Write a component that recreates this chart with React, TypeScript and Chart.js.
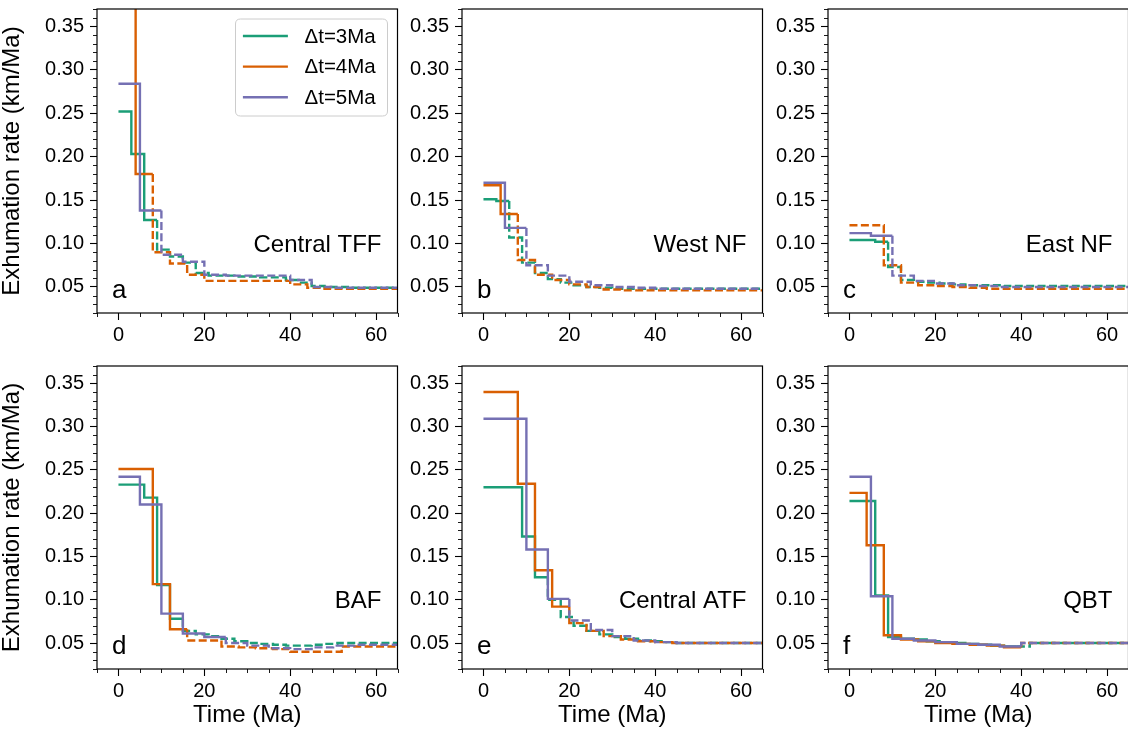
import { useEffect, useRef } from 'react';
import { Chart, registerables } from 'chart.js';

Chart.register(...registerables);

const FONT = '"Liberation Sans", Arial, Helvetica, sans-serif';

// Axis ticks
const X_TICKS = [0, 20, 40, 60];
const Y_TICKS = [0.05, 0.1, 0.15, 0.2, 0.25, 0.3, 0.35];
const X_MINOR = [-5, 5, 10, 15, 25, 30, 35, 45, 50, 55, 65];
const Y_MINOR = [0.02, 0.03, 0.04, 0.06, 0.07, 0.08, 0.09, 0.11, 0.12, 0.13, 0.14, 0.16, 0.17, 0.18, 0.19, 0.21, 0.22, 0.23, 0.24, 0.26, 0.27, 0.28, 0.29, 0.31, 0.32, 0.33, 0.34, 0.36, 0.37];

// Time-step edges (Ma) for each Δt
const T3 = [0, 3, 6, 9, 12, 15, 18, 21, 24, 27, 30, 33, 36, 39, 42, 45, 48, 51, 54, 57, 60, 63, 66];
const T4 = [0, 4, 8, 12, 16, 20, 24, 28, 32, 36, 40, 44, 48, 52, 56, 60, 64, 68];
const T5 = [0, 5, 10, 15, 20, 25, 30, 35, 40, 45, 50, 55, 60, 65, 70];

const SERIES_LABELS = ['Δt=3Ma', 'Δt=4Ma', 'Δt=5Ma'];
const SERIES_COLORS = ['#1b9e77', '#d95f02', '#7570b3'];
const PANEL_LETTERS = ['a', 'b', 'c', 'd', 'e', 'f'];
const PANEL_NAMES = ['Central TFF', 'West NF', 'East NF', 'BAF', 'Central ATF', 'QBT'];

// Exhumation rates (km/Ma) per time step; [green Δt=3, orange Δt=4, purple Δt=5]
const A3 = [0.252, 0.203, 0.127, 0.093, 0.085, 0.078, 0.066, 0.063, 0.063, 0.062, 0.062, 0.061, 0.061, 0.058, 0.055, 0.051, 0.05, 0.05, 0.049, 0.049, 0.049, 0.049];
const A4 = [0.6, 0.18, 0.09, 0.077, 0.064, 0.057, 0.057, 0.057, 0.057, 0.057, 0.053, 0.049, 0.048, 0.048, 0.048, 0.048, 0.048];
const A5 = [0.284, 0.138, 0.087, 0.079, 0.064, 0.063, 0.063, 0.063, 0.058, 0.05, 0.049, 0.049, 0.049, 0.049];
const A_SOLID = [3, 2, 2];

const B3 = [0.151, 0.149, 0.107, 0.078, 0.066, 0.059, 0.055, 0.052, 0.05, 0.049, 0.048, 0.048, 0.048, 0.048, 0.048, 0.048, 0.048, 0.048, 0.048, 0.048, 0.048, 0.048];
const B4 = [0.167, 0.134, 0.081, 0.064, 0.058, 0.053, 0.05, 0.047, 0.046, 0.046, 0.046, 0.046, 0.046, 0.046, 0.046, 0.046, 0.046];
const B5 = [0.17, 0.118, 0.075, 0.063, 0.056, 0.052, 0.05, 0.049, 0.048, 0.048, 0.048, 0.048, 0.048, 0.048];
const B_SOLID = [2, 2, 2];

const C3 = [0.104, 0.104, 0.102, 0.073, 0.058, 0.056, 0.055, 0.054, 0.053, 0.052, 0.052, 0.052, 0.051, 0.051, 0.051, 0.051, 0.051, 0.051, 0.051, 0.051, 0.051, 0.051];
const C4 = [0.121, 0.121, 0.075, 0.055, 0.052, 0.051, 0.05, 0.049, 0.048, 0.048, 0.048, 0.048, 0.048, 0.048, 0.048, 0.048, 0.048];
const C5 = [0.112, 0.109, 0.063, 0.057, 0.054, 0.052, 0.051, 0.05, 0.05, 0.05, 0.05, 0.05, 0.05, 0.05];
const C_SOLID = [3, 0, 2];

const D3 = [0.233, 0.233, 0.218, 0.117, 0.078, 0.064, 0.06, 0.058, 0.055, 0.052, 0.05, 0.049, 0.048, 0.047, 0.047, 0.048, 0.049, 0.05, 0.05, 0.05, 0.05, 0.05];
const D4 = [0.251, 0.251, 0.118, 0.066, 0.053, 0.053, 0.046, 0.045, 0.044, 0.043, 0.04, 0.04, 0.04, 0.046, 0.046, 0.046, 0.046];
const D5 = [0.242, 0.21, 0.084, 0.061, 0.057, 0.05, 0.047, 0.044, 0.043, 0.045, 0.047, 0.048, 0.048, 0.048];
const D_SOLID = [5, 4, 5];

const E3 = [0.23, 0.23, 0.23, 0.173, 0.126, 0.1, 0.08, 0.07, 0.064, 0.06, 0.057, 0.055, 0.053, 0.052, 0.051, 0.05, 0.05, 0.05, 0.05, 0.05, 0.05, 0.05];
const E4 = [0.34, 0.34, 0.234, 0.134, 0.092, 0.073, 0.064, 0.058, 0.054, 0.052, 0.051, 0.05, 0.05, 0.05, 0.05, 0.05, 0.05];
const E5 = [0.309, 0.309, 0.158, 0.101, 0.076, 0.065, 0.058, 0.053, 0.051, 0.05, 0.05, 0.05, 0.05, 0.05];
const E_SOLID = [5, 5, 4];

const F3 = [0.214, 0.214, 0.105, 0.057, 0.055, 0.054, 0.052, 0.051, 0.05, 0.049, 0.048, 0.047, 0.046, 0.046, 0.05, 0.05, 0.05, 0.05, 0.05, 0.05, 0.05, 0.05];
const F4 = [0.2235, 0.163, 0.059, 0.054, 0.052, 0.05, 0.049, 0.048, 0.047, 0.045, 0.05, 0.05, 0.05, 0.05, 0.05, 0.05, 0.05];
const F5 = [0.242, 0.104, 0.055, 0.053, 0.051, 0.049, 0.048, 0.046, 0.05, 0.05, 0.05, 0.05, 0.05, 0.05];
const F_SOLID = [13, 10, 8];

const PANEL_VALUES = [
  [A3, A4, A5],
  [B3, B4, B5],
  [C3, C4, C5],
  [D3, D4, D5],
  [E3, E4, E5],
  [F3, F4, F5],
];
const PANEL_SOLID = [A_SOLID, B_SOLID, C_SOLID, D_SOLID, E_SOLID, F_SOLID];
const EDGES = [T3, T4, T5];

const X_MIN = -5;
const X_MAX = 65;
const Y_MIN = 0.02;
const Y_MAX = 0.37;

type Pt = { x: number; y: number };

function stepPoints(edges: number[], vals: number[], from: number, to: number): Pt[] {
  const pts: Pt[] = [];
  if (to <= from) return pts;
  if (from > 0) pts.push({ x: edges[from], y: vals[from - 1] });
  for (let i = from; i < to; i++) pts.push({ x: edges[i], y: vals[i] });
  pts.push({ x: edges[to], y: vals[to - 1] });
  return pts;
}

function buildDatasets(idx: number) {
  const out: any[] = [];
  // purple first so it is drawn on top (Chart.js draws first dataset last)
  for (const s of [2, 1, 0]) {
    const vals = PANEL_VALUES[idx][s];
    const edges = EDGES[s];
    const ns = PANEL_SOLID[idx][s];
    const n = vals.length;
    const solid = stepPoints(edges, vals, 0, ns);
    const dashed = stepPoints(edges, vals, ns, n);
    const base = {
      borderColor: SERIES_COLORS[s],
      backgroundColor: SERIES_COLORS[s],
      borderWidth: 2.4,
      pointRadius: 0,
      stepped: 'before',
      fill: false,
      borderCapStyle: 'butt',
      borderJoinStyle: 'miter',
    };
    if (solid.length) out.push({ ...base, label: SERIES_LABELS[s], data: solid });
    if (dashed.length) out.push({ ...base, label: SERIES_LABELS[s] + ' (dashed)', data: dashed, borderDash: [8, 3.4] });
  }
  return out;
}

const CANVAS_W = 400;
const Y_AXIS_W = 97;
const COL_LEFT = [0, 365, 731];
const ROW_TOP = [0, 358];
const ROW_H = [358, 376];
const ROW_PAD_TOP = [9, 8];
const ROW_X_AXIS_H = [45, 65];

function Panel({ idx }: { idx: number }) {
  const ref = useRef<HTMLCanvasElement>(null);
  const col = idx % 3;
  const row = Math.floor(idx / 3);

  useEffect(() => {
    if (!ref.current) return;
    const decorPlugin = {
      id: 'decor' + idx,
      afterDatasetsDraw(chart: any) {
        const { ctx, chartArea } = chart;
        const { left, right, top, bottom } = chartArea;
        const xs = chart.scales.x;
        const ys = chart.scales.y;
        ctx.save();
        // minor ticks
        ctx.strokeStyle = '#000';
        ctx.lineWidth = 0.9;
        ctx.beginPath();
        for (const v of X_MINOR) {
          const px = Math.round(xs.getPixelForValue(v)) + 0.5;
          if (px < left - 1 || px > right + 1) continue;
          ctx.moveTo(px, bottom);
          ctx.lineTo(px, bottom + 4);
        }
        for (const v of Y_MINOR) {
          const py = Math.round(ys.getPixelForValue(v)) + 0.5;
          if (py < top - 1 || py > bottom + 1) continue;
          ctx.moveTo(left, py);
          ctx.lineTo(left - 4, py);
        }
        ctx.stroke();
        // frame
        ctx.lineWidth = 1.2;
        ctx.strokeStyle = '#000';
        ctx.strokeRect(left, top, right - left, bottom - top);

        // region name
        ctx.fillStyle = '#000';
        ctx.font = '24px ' + FONT;
        ctx.textAlign = 'right';
        ctx.textBaseline = 'alphabetic';
        ctx.fillText(PANEL_NAMES[idx], right - 16, bottom - 61);
        // panel letter
        ctx.font = '26px ' + FONT;
        ctx.textAlign = 'left';
        ctx.fillText(PANEL_LETTERS[idx], left + 15, bottom - 15);

        // legend (panel a only)
        if (idx === 0) {
          const bx = right - 162;
          const by = top + 10;
          const bw = 152;
          const bh = 97;
          const r = 5;
          ctx.beginPath();
          ctx.moveTo(bx + r, by);
          ctx.lineTo(bx + bw - r, by);
          ctx.quadraticCurveTo(bx + bw, by, bx + bw, by + r);
          ctx.lineTo(bx + bw, by + bh - r);
          ctx.quadraticCurveTo(bx + bw, by + bh, bx + bw - r, by + bh);
          ctx.lineTo(bx + r, by + bh);
          ctx.quadraticCurveTo(bx, by + bh, bx, by + bh - r);
          ctx.lineTo(bx, by + r);
          ctx.quadraticCurveTo(bx, by, bx + r, by);
          ctx.closePath();
          ctx.fillStyle = 'rgba(255,255,255,0.8)';
          ctx.fill();
          ctx.lineWidth = 1;
          ctx.strokeStyle = '#cccccc';
          ctx.stroke();
          for (let s = 0; s < 3; s++) {
            const cy = top + 27 + s * 30.6;
            ctx.beginPath();
            ctx.strokeStyle = SERIES_COLORS[s];
            ctx.lineWidth = 2.4;
            ctx.moveTo(right - 154.6, cy);
            ctx.lineTo(right - 109.6, cy);
            ctx.stroke();
            ctx.fillStyle = '#000';
            ctx.font = '20.5px ' + FONT;
            ctx.textAlign = 'left';
            ctx.textBaseline = 'middle';
            ctx.fillText(SERIES_LABELS[s], right - 93, cy + 1);
          }
        }
        ctx.restore();
      },
    };

    const chart = new Chart(ref.current, {
      type: 'line',
      data: { datasets: buildDatasets(idx) },
      options: {
        animation: false,
        responsive: false,
        maintainAspectRatio: false,
        devicePixelRatio: 1,
        layout: { padding: { top: ROW_PAD_TOP[row], right: 2.5, left: 0, bottom: 0 } },
        plugins: { legend: { display: false }, tooltip: { enabled: false } },
        elements: { point: { radius: 0 } },
        scales: {
          x: {
            type: 'linear',
            min: X_MIN,
            max: X_MAX,
            afterBuildTicks: (s: any) => {
              s.ticks = X_TICKS.map((v) => ({ value: v }));
            },
            afterFit: (s: any) => {
              s.height = ROW_X_AXIS_H[row];
              s.paddingLeft = 0;
              s.paddingRight = 0;
            },
            grid: { drawOnChartArea: false, drawTicks: true, tickLength: 7, color: '#000', tickColor: '#000', tickWidth: 1.1 },
            border: { display: false },
            ticks: {
              autoSkip: false,
              maxRotation: 0,
              padding: 3,
              color: '#000',
              font: { family: FONT, size: 20 },
              callback: (v: any) => String(v),
            },
            title: {
              display: row === 1,
              text: 'Time (Ma)',
              color: '#000',
              font: { family: FONT, size: 24 },
              padding: { top: 0, bottom: 4 },
            },
          },
          y: {
            type: 'linear',
            min: Y_MIN,
            max: Y_MAX,
            afterBuildTicks: (s: any) => {
              s.ticks = Y_TICKS.map((v) => ({ value: v }));
            },
            afterFit: (s: any) => {
              s.width = Y_AXIS_W;
              s.paddingTop = 0;
              s.paddingBottom = 0;
            },
            grid: { drawOnChartArea: false, drawTicks: true, tickLength: 7, color: '#000', tickColor: '#000', tickWidth: 1.1 },
            border: { display: false },
            ticks: {
              autoSkip: false,
              padding: 6,
              color: '#000',
              font: { family: FONT, size: 20 },
              callback: (v: any) => Number(v).toFixed(2),
            },
            title: {
              display: col === 0,
              text: 'Exhumation rate (km/Ma)',
              color: '#000',
              font: { family: FONT, size: 24, lineHeight: 1 },
              padding: { top: 0, bottom: 0 },
            },
          },
        },
      } as any,
      plugins: [decorPlugin],
    } as any);
    return () => chart.destroy();
  }, [idx, col, row]);

  return (
    <canvas
      ref={ref}
      width={CANVAS_W}
      height={ROW_H[row]}
      style={{ position: 'absolute', left: COL_LEFT[col], top: ROW_TOP[row], width: CANVAS_W, height: ROW_H[row] }}
    />
  );
}

export default function App() {
  return (
    <div
      style={{
        position: 'absolute',
        left: 0,
        top: 0,
        width: 1128,
        height: 734,
        overflow: 'hidden',
        background: '#fff',
      }}
    >
      {[0, 1, 2, 3, 4, 5].map((i) => (
        <Panel key={i} idx={i} />
      ))}
    </div>
  );
}
